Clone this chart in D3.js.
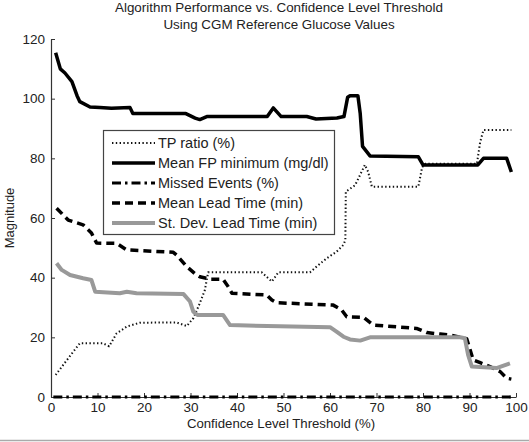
<!DOCTYPE html>
<html><head><meta charset="utf-8">
<script src="https://cdn.jsdelivr.net/npm/d3@7"></script>
<style>body{margin:0;background:#fff}svg{display:block}text{font-family:"Liberation Sans",Arial,sans-serif;fill:#222}</style>
</head><body><svg id="c" width="529" height="442"></svg>
<script>
const xTicks = [0,10,20,30,40,50,60,70,80,90,100];
const yTicks = [0,20,40,60,80,100,120];

const tpX = [1,2.6,4.8,6.2,11.2,12.5,14.1,16.3,19.1,27,29.2,30.6,32,33.1,33.8,45.3,47.5,48.9,55.7,57.1,59.3,61.4,62.9,63.3,63.4,65.4,66.8,67.5,68.2,69,79,79.8,80.5,91.6,92.3,93,99];
const tpY = [7.4,10.7,15.2,18,18,17,21.3,23.6,24.9,25,23.8,26.4,31.4,35.9,41.8,41.8,38.7,41.8,41.8,43.7,46.5,48.7,51,52.6,68.8,71,75.5,77.8,75.5,70.5,70.5,77,78.2,78.2,85.5,89.5,89.5];

const fpX = [1,2,3,4.5,5.6,6.2,8.4,10.5,13,17,17.6,22,29,31,32,33.5,40,46.5,47.8,49.5,55,57,61.5,63,63.8,64.3,66,66.5,67,68.6,79,80,91.8,93,98,99];
const fpY = [115.4,110,108.6,105.7,101,99,97.2,97,96.8,97,95,95,95,93.5,93,94,94,94,96.9,94,94,93.2,93.5,94,100.5,101,101,95,84,80.8,80.5,77.8,77.8,80,80,75.4];

const missX = [0.5,99.5];
const missY = [0,0];

const leadX = [1.2,3.7,6.9,8.7,9.8,14.1,16.3,26.3,27,29.2,31.3,32,34.2,37,38.1,38.9,46.4,47.5,48.5,60.7,62.5,63.6,67.2,69.3,78.6,80.8,83.7,85.8,88,89.4,90.8,92.3,94.4,96.6,98,99];
const leadY = [63.3,59.3,57.7,55,51.6,51.5,49.3,48.5,47.6,43.7,40.9,40.3,39.5,39.5,37,34.8,34.2,32.5,31.6,30.8,29.2,26.9,26.7,24.1,23,21.6,21.1,20.8,20,19.5,12.4,11.5,10.2,8.5,6.3,6];

const sdX = [1.2,2.3,4.1,6.9,8.7,9.5,14.8,16.3,18.4,28.5,29.9,30.6,31.5,37,38.5,46.5,60,61.4,62.9,64.3,66.5,68.6,88,89,89.7,90.5,95.8,98.7];
const sdY = [44.8,42.6,40.9,39.8,39.2,35.3,34.8,35.3,34.8,34.5,32,28.6,27.5,27.5,24.1,23.8,23.4,21.9,20.2,19.3,18.9,20,20,19.7,14.1,10.2,9.7,11.3];

const names = ["TP ratio (%)","Mean FP minimum (mg/dl)","Missed Events (%)","Mean Lead Time (min)","St. Dev. Lead Time (min)"];
const title1 = "Algorithm Performance vs. Confidence Level Threshold";
const title2 = "Using CGM Reference Glucose Values";
const xLabel = "Confidence Level Threshold (%)";
const yLabel = "Magnitude";

const styles = [
  {stroke:"#111", w:2, dash:"1.4,2.4"},
  {stroke:"#000", w:3.5, dash:null},
  {stroke:"#000", w:3.2, dash:"9,4,2.5,4"},
  {stroke:"#000", w:3.5, dash:"8,5"},
  {stroke:"#999", w:4, dash:null}
];
const seriesData = [[tpX,tpY],[fpX,fpY],[missX,missY],[leadX,leadY],[sdX,sdY]];

const svg = d3.select("#c");
const x = d3.scaleLinear().domain([0,100]).range([51,516]);
const y = d3.scaleLinear().domain([0,120]).range([397,39]);

// bottom frame line
svg.append("line").attr("x1",0).attr("x2",529).attr("y1",440.5).attr("y2",440.5).attr("stroke","#aaa").attr("stroke-width",1.5);

const xa = svg.append("g").attr("transform","translate(0,397)")
  .call(d3.axisBottom(x).tickValues(xTicks).tickSizeInner(-4).tickSizeOuter(0).tickPadding(5));
const ya = svg.append("g").attr("transform","translate(51,0)")
  .call(d3.axisLeft(y).tickValues(yTicks).tickSizeInner(-4).tickSizeOuter(0).tickPadding(6));
[xa,ya].forEach(a=>{
  a.select(".domain").attr("stroke","#333").attr("stroke-width",1.2);
  a.selectAll(".tick line").attr("stroke","#333");
  a.selectAll("text").attr("font-size",13.5).attr("fill","#222").attr("font-family","Liberation Sans, Arial, sans-serif");
});

const line = d3.line().x(d=>x(d[0])).y(d=>y(d[1]));
seriesData.forEach((s,i)=>{
  const pts = s[0].map((v,j)=>[v,s[1][j]]);
  const p = svg.append("path").datum(pts).attr("d",line).attr("fill","none")
    .attr("stroke",styles[i].stroke).attr("stroke-width",styles[i].w).attr("stroke-linejoin","round");
  if(styles[i].dash) p.attr("stroke-dasharray",styles[i].dash);
});

// titles
svg.append("text").attr("x",279).attr("y",12).attr("text-anchor","middle").attr("font-size",13.4).text(title1);
svg.append("text").attr("x",279).attr("y",29).attr("text-anchor","middle").attr("font-size",13.4).text(title2);
svg.append("text").attr("x",281).attr("y",428).attr("text-anchor","middle").attr("font-size",13.2).text(xLabel);
svg.append("text").attr("transform","translate(14,218) rotate(-90)").attr("text-anchor","middle").attr("font-size",13).text(yLabel);

// legend
const lg = svg.append("g");
lg.append("rect").attr("x",103.5).attr("y",130.5).attr("width",231).attr("height",104).attr("fill","#fff").attr("stroke","#444").attr("stroke-width",1.2);
names.forEach((n,i)=>{
  const yy = 143 + i*20;
  const l = lg.append("line").attr("x1",112).attr("x2",155).attr("y1",yy).attr("y2",yy)
    .attr("stroke",styles[i].stroke).attr("stroke-width",styles[i].w);
  if(styles[i].dash) l.attr("stroke-dasharray",styles[i].dash);
  lg.append("text").attr("x",158).attr("y",yy+5).attr("font-size",14.5).text(n);
});
</script></body></html>
